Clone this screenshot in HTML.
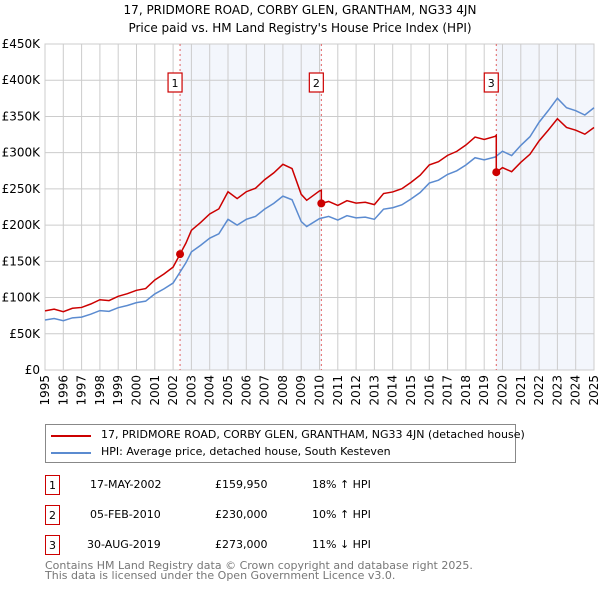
<!DOCTYPE html>
<html><head><meta charset="utf-8"><style>
body{margin:0;background:#fff;font-family:"DejaVu Sans","Liberation Sans",sans-serif;}
#wrap{position:relative;width:600px;height:590px;overflow:hidden;}
.t{position:absolute;font-size:11px;color:#000;white-space:nowrap;}
.box{position:absolute;border:1.5px solid #c00;width:15px;height:20px;font-size:11px;text-align:center;line-height:19px;box-sizing:border-box;}
</style></head><body><div id="wrap">
<svg id="chart" width="600" height="420" style="position:absolute;left:0;top:0" font-family="DejaVu Sans, Liberation Sans, sans-serif">
<text x="300" y="14" text-anchor="middle" font-size="12">17, PRIDMORE ROAD, CORBY GLEN, GRANTHAM, NG33 4JN</text>
<text x="300" y="32" text-anchor="middle" font-size="12">Price paid vs. HM Land Registry's House Price Index (HPI)</text>
<g id="g"></g>
</svg>
<div style="position:absolute;left:45px;top:424px;width:469px;height:37px;border:1px solid #888;">
<div style="position:absolute;left:5px;top:10px;width:40px;height:2px;background:#c00"></div>
<div class="t" style="left:55px;top:3px">17, PRIDMORE ROAD, CORBY GLEN, GRANTHAM, NG33 4JN (detached house)</div>
<div style="position:absolute;left:5px;top:27px;width:40px;height:2px;background:#5b8bd0"></div>
<div class="t" style="left:55px;top:20px">HPI: Average price, detached house, South Kesteven</div>
</div>
<div class="box" style="left:45px;top:475px">1</div>
<div class="t" style="left:90px;top:478px">17-MAY-2002</div>
<div class="t" style="left:215px;top:478px">£159,950</div>
<div class="t" style="left:312px;top:478px">18% ↑ HPI</div>
<div class="box" style="left:45px;top:505px">2</div>
<div class="t" style="left:90px;top:508px">05-FEB-2010</div>
<div class="t" style="left:215px;top:508px">£230,000</div>
<div class="t" style="left:312px;top:508px">10% ↑ HPI</div>
<div class="box" style="left:45px;top:535px">3</div>
<div class="t" style="left:87px;top:538px">30-AUG-2019</div>
<div class="t" style="left:215px;top:538px">£273,000</div>
<div class="t" style="left:312px;top:538px">11% ↓ HPI</div>
<div class="t" style="left:45px;top:561px;color:#777;line-height:10px">Contains HM Land Registry data © Crown copyright and database right 2025.<br>This data is licensed under the Open Government Licence v3.0.</div>
</div>
<script>
const hpiYears=[1995,1995.5,1996,1996.5,1997,1997.5,1998,1998.5,1999,1999.5,2000,2000.5,2001,2001.5,2002,2002.4,2002.7,2003,2003.5,2004,2004.5,2005,2005.5,2006,2006.5,2007,2007.5,2008,2008.5,2009,2009.3,2010,2010.5,2011,2011.5,2012,2012.5,2013,2013.5,2014,2014.5,2015,2015.5,2016,2016.5,2017,2017.5,2018,2018.5,2019,2019.6,2020,2020.5,2021,2021.5,2022,2022.5,2023,2023.5,2024,2024.5,2025];
const hpiValues=[69,71,68,72,73,77,82,81,86,89,93,95,105,112,120,136,148,163,172,182,188,208,200,208,212,222,230,240,235,205,198,209,212,207,213,210,211,208,222,224,228,236,245,258,262,270,275,283,293,290,294,302,296,310,322,342,358,375,362,358,352,362];
const saleYears=[2002.38,2010.1,2019.66];
const salePrices=[159.95,230,273];
const saleLabels=["1","2","3"];
const yTicks=[0,50,100,150,200,250,300,350,400,450];
const yTickLabels=["£0","£50K","£100K","£150K","£200K","£250K","£300K","£350K","£400K","£450K"];
const xTicks=[];for(let y=1995;y<=2025;y++)xTicks.push(y);
const X=v=>45+(v-1995)*(549/30), Y=v=>370-v*(326/450);
const g=document.getElementById('g');const NS='http://www.w3.org/2000/svg';
function mk(t,a){const e=document.createElementNS(NS,t);for(const k in a)e.setAttribute(k,a[k]);g.appendChild(e);return e;}
function hpiAt(t){for(let i=1;i<hpiYears.length;i++)if(t<=hpiYears[i]){const f=(t-hpiYears[i-1])/(hpiYears[i]-hpiYears[i-1]);return hpiValues[i-1]+f*(hpiValues[i]-hpiValues[i-1]);}return hpiValues[hpiValues.length-1];}
let e;
e=mk('rect',{x:X(saleYears[0]),y:44,width:X(saleYears[1])-X(saleYears[0]),height:326,fill:'#eef2fb',opacity:0.7});

e=mk('rect',{x:X(saleYears[2]),y:44,width:X(2025)-X(saleYears[2]),height:326,fill:'#eef2fb',opacity:0.7});

yTicks.forEach((v,i)=>{e=mk('line',{x1:45,x2:594,y1:Y(v),y2:Y(v),stroke:'#ccc'});

e=mk('text',{x:40,y:Y(v)+4,'text-anchor':'end','font-size':12});e.textContent=yTickLabels[i];
});
xTicks.forEach(v=>{e=mk('line',{x1:X(v),x2:X(v),y1:44,y2:370,stroke:'#ccc'});

e=mk('text',{x:0,y:0,'text-anchor':'end','font-size':12,transform:`translate(${X(v)+4},375) rotate(-90)`});e.textContent=v;
});
e=mk('rect',{x:45,y:44,width:549,height:326,fill:'none',stroke:'#ccc'});

saleYears.forEach((s,i)=>{e=mk('line',{x1:X(s),x2:X(s),y1:44,y2:370,stroke:'#e06060','stroke-dasharray':'2,3'});
});
e=mk('path',{d:'M'+hpiYears.map((t,i)=>X(t)+','+Y(hpiValues[i])).join('L'),fill:'none',stroke:'#5b8bd0','stroke-width':1.5});

const ratios=salePrices.map((p,i)=>p/hpiAt(saleYears[i]));
function ratioAt(t){let r=ratios[0];saleYears.forEach((s,i)=>{if(t>=s)r=ratios[i];});return r;}
let pts=[];hpiYears.forEach((t,i)=>{saleYears.forEach((s,j)=>{if(i>0&&hpiYears[i-1]<s&&t>=s){const hv=hpiAt(s);pts.push([s,hv*(j>0?ratios[j-1]:ratios[0])]);pts.push([s,salePrices[j]]);}});pts.push([t,hpiValues[i]*ratioAt(t)]);});
e=mk('path',{d:'M'+pts.map(p=>X(p[0])+','+Y(p[1])).join('L'),fill:'none',stroke:'#cc0000','stroke-width':1.5});

saleYears.forEach((s,i)=>{e=mk('circle',{cx:X(s),cy:Y(salePrices[i]),r:4,fill:'#cc0000'});

e=mk('rect',{x:X(s)-12,y:73,width:14,height:19,fill:'#fff',stroke:'#c00','stroke-width':1.2});

e=mk('text',{x:X(s)-5,y:87,'text-anchor':'middle','font-size':11});e.textContent=saleLabels[i];
});
</script>
</body></html>
